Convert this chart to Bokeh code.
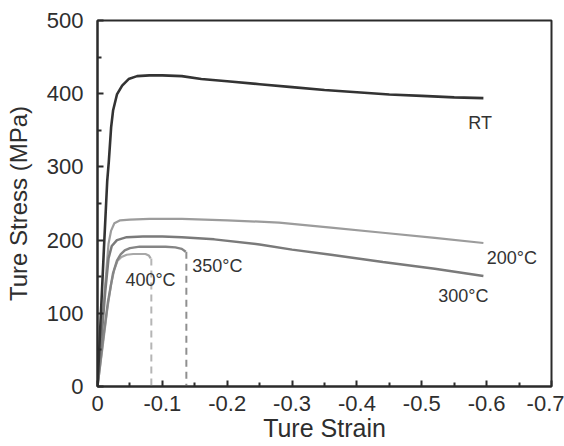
from bokeh.plotting import figure
from bokeh.models import Range1d, FixedTicker, Label
from bokeh.embed import file_html
from bokeh.resources import INLINE

# ---- data ----
rt_strain = [0, -0.005, -0.01, -0.015, -0.0175, -0.021, -0.024, -0.03, -0.038, -0.048, -0.061,
             -0.08, -0.1, -0.13, -0.16, -0.2, -0.25, -0.3, -0.35, -0.4, -0.45, -0.5, -0.55, -0.595]
rt_stress = [0, 95, 190, 281, 308, 354, 377, 399, 411, 420, 424,
             425, 425, 424, 420, 417, 413, 409, 405, 402, 399, 397, 395, 394]

t200_strain = [0, -0.006, -0.012, -0.017, -0.021, -0.026, -0.035, -0.05, -0.08, -0.13,
               -0.2, -0.28, -0.36, -0.44, -0.52, -0.595]
t200_stress = [0, 70, 140, 195, 213, 223, 227, 228, 229, 229,
               227, 224, 217, 210, 203, 196]

t300_strain = [0, -0.006, -0.012, -0.017, -0.022, -0.03, -0.045, -0.07, -0.1, -0.13,
               -0.18, -0.25, -0.3, -0.36, -0.44, -0.52, -0.595]
t300_stress = [0, 65, 130, 175, 192, 200, 204, 205, 205, 204,
               201, 194, 187, 180, 170, 161, 151]

t350_strain = [0, -0.008, -0.016, -0.024, -0.03, -0.036, -0.042, -0.05, -0.065, -0.085,
               -0.105, -0.12, -0.13, -0.136]
t350_stress = [0, 60, 115, 155, 172, 181, 186, 189, 191, 191, 191, 190, 188, 184]

t400_strain = [0, -0.008, -0.015, -0.021, -0.026, -0.031, -0.037, -0.045, -0.055, -0.065,
               -0.074, -0.079, -0.082]
t400_stress = [0, 55, 105, 140, 160, 172, 177, 180, 181, 181, 181, 179, 175]

fracture_400_x = [-0.083, -0.083]
fracture_400_y = [175, 0]
fracture_350_x = [-0.137, -0.137]
fracture_350_y = [184, 0]

x_ticks = [0, -0.1, -0.2, -0.3, -0.4, -0.5, -0.6, -0.7]
x_tick_labels = ["0", "-0.1", "-0.2", "-0.3", "-0.4", "-0.5", "-0.6", "-0.7"]
x_minor = [-0.05, -0.15, -0.25, -0.35, -0.45, -0.55, -0.65]
y_ticks = [0, 100, 200, 300, 400, 500]
y_minor = [50, 150, 250, 350, 450]

x_title = "Ture Strain"
y_title = "Ture Stress (MPa)"

FONT = "Liberation Sans"
AXC = "#2b2b2b"

p = figure(width=564, height=446, output_backend="svg", toolbar_location=None,
           x_range=Range1d(0, -0.7), y_range=Range1d(0, 500),
           min_border_left=97, min_border_right=13, min_border_top=20, min_border_bottom=60)
p.xgrid.visible = False
p.ygrid.visible = False
p.outline_line_color = AXC
p.outline_line_width = 2
p.background_fill_color = "white"
p.border_fill_color = "white"

for ax in (p.xaxis[0], p.yaxis[0]):
    ax.axis_line_color = AXC
    ax.axis_line_width = 2
    ax.major_tick_in = 6
    ax.major_tick_out = 0
    ax.minor_tick_in = 4
    ax.minor_tick_out = 0
    ax.major_tick_line_color = AXC
    ax.major_tick_line_width = 2
    ax.minor_tick_line_color = AXC
    ax.minor_tick_line_width = 2
    ax.major_label_text_font = FONT
    ax.major_label_text_font_size = "22px"
    ax.major_label_text_color = "#2e2e2e"
    ax.axis_label_text_font = FONT
    ax.axis_label_text_font_style = "normal"
    ax.axis_label_text_color = "#2e2e2e"

p.xaxis[0].ticker = FixedTicker(ticks=x_ticks, minor_ticks=x_minor)
p.xaxis[0].major_label_overrides = {t: l for t, l in zip(x_ticks, x_tick_labels)}
p.xaxis[0].major_label_standoff = 9
p.xaxis[0].axis_label = x_title
p.xaxis[0].axis_label_text_font_size = "25px"
p.xaxis[0].axis_label_standoff = 0

p.yaxis[0].ticker = FixedTicker(ticks=y_ticks, minor_ticks=y_minor)
p.yaxis[0].major_label_standoff = 14
p.yaxis[0].axis_label = y_title
p.yaxis[0].axis_label_text_font_size = "24px"
p.yaxis[0].axis_label_standoff = 12

# fracture markers (dashed)
p.line(fracture_400_x, fracture_400_y, line_color="#b5b5b5", line_width=2, line_dash="7 5")
p.line(fracture_350_x, fracture_350_y, line_color="#8f8f8f", line_width=2, line_dash="7 5")

# curves
p.line(t400_strain, t400_stress, line_color="#a8a8a8", line_width=2.2)
p.line(t350_strain, t350_stress, line_color="#858585", line_width=2.4)
p.line(t200_strain, t200_stress, line_color="#9c9c9c", line_width=2.2)
p.line(t300_strain, t300_stress, line_color="#7a7a7a", line_width=2.5)
p.line(rt_strain, rt_stress, line_color="#333333", line_width=2.6)

labels = [
    ("RT", -0.590, 360, "center"),
    ("200°C", -0.639, 175, "center"),
    ("300°C", -0.564, 124, "center"),
    ("350°C", -0.146, 165, "left"),
    ("400°C", -0.043, 145, "left"),
]
for txt, x, y, al in labels:
    p.add_layout(Label(x=x, y=y, text=txt, text_font=FONT, text_font_size="18px",
                       text_color="#333333", text_align=al, text_baseline="middle"))

open("out.html", "w").write(file_html(p, INLINE))
